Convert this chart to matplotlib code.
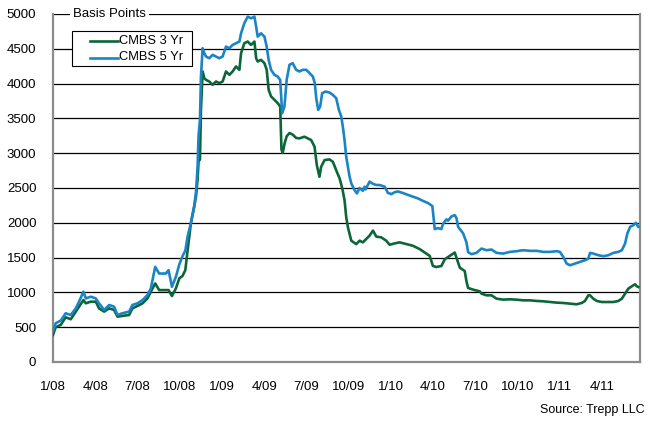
import matplotlib
matplotlib.use("Agg")
import matplotlib.pyplot as plt
from matplotlib.lines import Line2D
from matplotlib.patches import Rectangle

plt.rcParams['font.family'] = ['Liberation Sans', 'DejaVu Sans']

# x = months since Jan 2008
blue_x = [0.00, 0.19, 0.55, 0.90, 1.26, 1.62, 1.85, 2.16, 2.33, 2.68, 3.04, 3.27, 3.63, 3.99, 4.34, 4.58,
          4.93, 5.41, 5.64, 6.00, 6.36, 6.71, 6.95, 7.26, 7.54, 8.02, 8.21, 8.45, 8.73, 8.97, 9.20, 9.40,
          9.56, 9.80, 10.04, 10.16, 10.27, 10.34, 10.44, 10.51, 10.63, 10.75, 10.87, 11.10, 11.34, 11.58,
          11.81, 12.05, 12.29, 12.53, 12.76, 13.00, 13.24, 13.36, 13.59, 13.83, 14.07, 14.31, 14.43, 14.54,
          14.78, 15.02, 15.18, 15.32, 15.49, 15.73, 15.96, 16.14, 16.28, 16.44, 16.60, 16.80, 17.03, 17.27,
          17.51, 17.74, 17.99, 18.22, 18.46, 18.60, 18.70, 18.84, 18.98, 19.12, 19.36, 19.64, 19.88, 20.12,
          20.31, 20.48, 20.59, 20.71, 20.83, 20.95, 21.07, 21.19, 21.42, 21.59, 21.78, 22.01, 22.14, 22.21,
          22.49, 22.73, 22.97, 23.20, 23.56, 23.79, 24.04, 24.27, 24.51, 24.86, 25.22, 25.57, 25.93, 26.28,
          26.64, 26.95, 27.05, 27.12, 27.35, 27.59, 27.71, 27.95, 28.06, 28.31, 28.54, 28.66, 28.78, 29.13,
          29.37, 29.49, 29.73, 30.08, 30.44, 30.80, 31.15, 31.51, 31.98, 32.46, 32.93, 33.40, 33.88, 34.36,
          34.83, 35.30, 35.78, 36.01, 36.25, 36.49, 36.73, 37.08, 37.44, 37.79, 38.03, 38.15, 38.38, 38.74,
          39.10, 39.45, 39.81, 40.16, 40.41, 40.64, 40.80, 41.00, 41.23, 41.40, 41.58]
blue_y = [440, 557, 595, 700, 676, 770, 867, 1010, 914, 938, 914, 843, 748, 819, 795, 676,
          700, 724, 819, 843, 890, 962, 1057, 1367, 1271, 1271, 1319, 1081, 1224, 1400, 1520, 1600,
          1800, 2000, 2250, 2450, 2800, 3250, 3480, 4100, 4508, 4437, 4389, 4365, 4413, 4389,
          4365, 4389, 4532, 4508, 4556, 4580, 4604, 4723, 4866, 4962, 4938, 4962, 4819, 4675,
          4723, 4675, 4532, 4341, 4198, 4126, 4102, 4054, 3574, 3670, 4054, 4270, 4294, 4198,
          4174, 4198, 4198, 4150, 4102, 4006, 3790, 3622, 3670, 3862, 3886, 3871, 3838, 3790,
          3622, 3526, 3382, 3190, 2950, 2806, 2662, 2566, 2470, 2422, 2500, 2460, 2519, 2480,
          2592, 2560, 2543, 2543, 2520, 2430, 2412, 2440, 2450, 2428, 2400, 2375, 2350, 2315,
          2284, 2240, 2044, 1910, 1924, 1910, 1985, 2050, 2030, 2092, 2110, 2070, 1942, 1850,
          1720, 1578, 1549, 1568, 1630, 1606, 1616, 1568, 1558, 1582, 1592, 1606, 1597, 1597,
          1582, 1582, 1592, 1582, 1510, 1414, 1390, 1414, 1438, 1462, 1486, 1568, 1558, 1534,
          1520, 1534, 1568, 1582, 1606, 1702, 1846, 1942, 1966, 2000, 1942]

green_x = [0.00, 0.19, 0.55, 0.90, 1.26, 1.62, 1.85, 2.16, 2.33, 2.68, 3.04, 3.27, 3.63, 3.99, 4.34, 4.58,
           4.93, 5.41, 5.64, 6.00, 6.36, 6.71, 6.95, 7.26, 7.54, 8.02, 8.21, 8.45, 8.73, 8.97, 9.20, 9.40,
           9.56, 9.80, 10.04, 10.16, 10.27, 10.34, 10.44, 10.51, 10.63, 10.75, 10.87, 11.10, 11.34, 11.58,
           11.81, 12.05, 12.29, 12.53, 12.76, 13.00, 13.24, 13.36, 13.59, 13.83, 14.07, 14.31, 14.43, 14.54,
           14.78, 15.02, 15.18, 15.32, 15.49, 15.73, 15.96, 16.14, 16.23, 16.32, 16.46, 16.60, 16.80, 17.03,
           17.27, 17.51, 17.86, 18.34, 18.58, 18.74, 18.93, 19.05, 19.29, 19.64, 19.88, 20.16, 20.36, 20.55,
           20.71, 20.83, 20.95, 21.19, 21.54, 21.78, 22.01, 22.25, 22.49, 22.73, 22.97, 23.32, 23.67, 23.91,
           24.27, 24.62, 25.10, 25.57, 26.05, 26.41, 26.76, 26.99, 27.23, 27.59, 27.83, 28.19, 28.54, 28.66,
           28.90, 29.25, 29.37, 29.49, 29.84, 30.32, 30.44, 30.80, 31.15, 31.51, 31.98, 32.46, 32.93, 33.40,
           33.88, 34.36, 34.83, 35.30, 35.78, 36.25, 36.73, 37.20, 37.56, 37.79, 38.03, 38.15, 38.38, 38.63,
           38.98, 39.34, 39.81, 40.16, 40.41, 40.64, 40.87, 41.12, 41.35, 41.47, 41.58]
green_y = [390, 500, 533, 643, 614, 724, 795, 890, 843, 867, 867, 771, 724, 771, 748, 652,
           662, 676, 771, 805, 843, 914, 1010, 1129, 1033, 1033, 1033, 948, 1057, 1200, 1237, 1320,
           1600, 2000, 2240, 2383, 2622, 2885, 2908, 3625, 4174, 4078, 4054, 4030, 3983, 4030,
           4007, 4030, 4174, 4126, 4174, 4246, 4198, 4437, 4580, 4604, 4556, 4604, 4365, 4317,
           4341, 4293, 4200, 3911, 3816, 3768, 3720, 3673, 3052, 3004, 3147, 3243, 3290, 3267,
           3219, 3213, 3237, 3189, 3093, 2829, 2662, 2806, 2901, 2911, 2877, 2734, 2638, 2494,
           2326, 2082, 1937, 1743, 1694, 1743, 1719, 1767, 1816, 1888, 1801, 1791, 1743, 1685,
           1704, 1719, 1694, 1670, 1622, 1573, 1525, 1379, 1365, 1379, 1476, 1525, 1573, 1500,
           1355, 1307, 1161, 1064, 1040, 1015, 982, 958, 958, 910, 896, 901, 896, 886,
           886, 877, 872, 862, 853, 848, 838, 829, 848, 877, 958, 958, 910, 877,
           862, 862, 862, 877, 910, 982, 1054, 1088, 1117, 1088, 1078]

series_names = ["CMBS 3 Yr", "CMBS 5 Yr"]
tick_pos = [0, 3, 6, 9, 12, 15, 18, 21, 24, 27, 30, 33, 36, 39]
tick_labels = ["1/08", "4/08", "7/08", "10/08", "1/09", "4/09", "7/09", "10/09",
               "1/10", "4/10", "7/10", "10/10", "1/11", "4/11"]
y_ticks = [0, 500, 1000, 1500, 2000, 2500, 3000, 3500, 4000, 4500, 5000]

GREEN = "#0b6638"
BLUE = "#1a84c7"
W, H = 650, 421

fig = plt.figure(figsize=(6.5, 4.21), dpi=100)
ax = fig.add_axes([53/W, 1 - 362/H, 587/W, 348/H])

for y in y_ticks[1:]:
    ax.axhline(y, color="black", lw=0.9, zorder=1)

ax.plot(green_x, green_y, color=GREEN, lw=1.9, zorder=3)
ax.plot(blue_x, blue_y, color=BLUE, lw=1.9, zorder=3)

ax.set_xlim(0, 41.7)
ax.set_ylim(0, 5000)
ax.set_yticks(y_ticks)
ax.set_yticklabels([str(v) for v in y_ticks], fontsize=9.5)
ax.set_xticks(tick_pos)
ax.set_xticklabels(tick_labels, fontsize=9.5)
ax.tick_params(axis='both', length=0)
ax.tick_params(axis='y', pad=12)
ax.tick_params(axis='x', pad=14)

for s in ["left", "bottom", "right"]:
    ax.spines[s].set_color("#8c8c8c")
    ax.spines[s].set_linewidth(1.6)
ax.spines["top"].set_visible(False)

ax.text(0.034, 1.0, "Basis Points", transform=ax.transAxes, fontsize=9.5,
        va="center", ha="left", zorder=5,
        bbox=dict(facecolor="white", edgecolor="none", pad=2))

# legend box drawn in figure pixel space
def fx(px):
    return px / W

def fy(py):
    return 1 - py / H

box = Rectangle((fx(72), fy(66)), fx(192) - fx(72), fy(31) - fy(66), transform=fig.transFigure,
                facecolor="white", edgecolor="black", lw=0.8, zorder=6)
fig.add_artist(box)
for row, (name, col) in enumerate(zip(series_names, [GREEN, BLUE])):
    yy = fy(40.5 + row * 17)
    fig.add_artist(Line2D([fx(90), fx(118)], [yy, yy], transform=fig.transFigure,
                          color=col, lw=1.9, zorder=7))
    fig.text(fx(119), yy, name, fontsize=9.3, va="center", ha="left", zorder=7)

fig.text(645/W, 1 - 410/H, "Source: Trepp LLC", ha="right", va="center", fontsize=9)

fig.savefig("out.png", dpi=100)
